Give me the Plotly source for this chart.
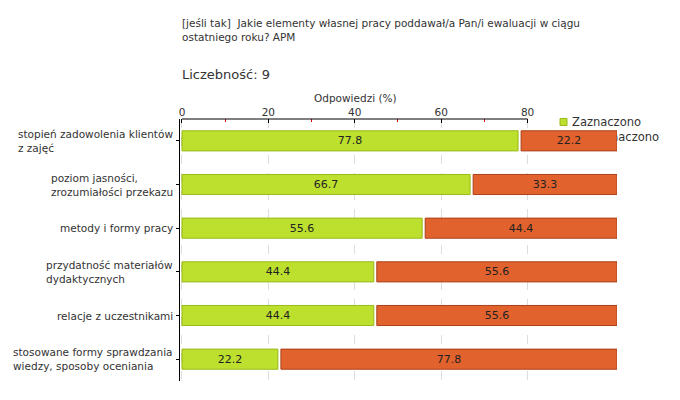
import plotly.graph_objects as go

categories = [
    "stopień zadowolenia klientów<br>z zajęć",
    "poziom jasności,<br>zrozumiałości przekazu",
    "metody i formy pracy",
    "przydatność materiałów<br>dydaktycznych",
    "relacje z uczestnikami",
    "stosowane formy sprawdzania<br>wiedzy, sposoby oceniania",
]
zaznaczono = [77.8, 66.7, 55.6, 44.4, 44.4, 22.2]
niezaznaczono = [22.2, 33.3, 44.4, 55.6, 55.6, 77.8]
tick_vals = [0, 20, 40, 60, 80]
minor_vals = [10, 30, 50, 70]
series_names = ["Zaznaczono", "Niezaznaczono"]

title_text = "[jeśli tak]  Jakie elementy własnej pracy poddawał/a Pan/i ewaluacji w ciągu<br>ostatniego roku? APM"
count_text = "Liczebność: 9"
axis_title = "Odpowiedzi (%)"

FONT = "DejaVu Sans"
TXT = "#333333"
GREEN = "#BDE02F"
GREEN_EDGE = "#98BA18"
ORANGE = "#E2622E"
ORANGE_EDGE = "#A9401A"
GAP = 0.7

fig = go.Figure()
fig.add_trace(go.Bar(
    y=categories, x=zaznaczono, orientation="h", name=series_names[0],
    marker=dict(color=GREEN, line=dict(color=GREEN_EDGE, width=1)),
    text=[f"{v:.1f}" for v in zaznaczono], textposition="inside",
    insidetextanchor="middle", textfont=dict(family=FONT, size=11, color="#222222"),
    showlegend=False, hoverinfo="x+y",
))
fig.add_trace(go.Bar(
    y=categories, x=niezaznaczono, orientation="h", name=series_names[1],
    base=[v + GAP for v in zaznaczono],
    marker=dict(color=ORANGE, line=dict(color=ORANGE_EDGE, width=1)),
    text=[f"{v:.1f}" for v in niezaznaczono], textposition="inside",
    insidetextanchor="middle", textfont=dict(family=FONT, size=11, color="#222222"),
    showlegend=False, hoverinfo="x+y",
))

W, H = 680, 400
L, R, T, B = 180, 63, 119, 19
pw, ph = W - L - R, H - T - B

def px(xp):
    return (xp - L) / pw

def py(yp):
    return 1 - (yp - T) / ph

annotations = [
    dict(text=title_text, xref="paper", yref="paper", x=px(180), y=py(15),
         xanchor="left", yanchor="top", align="left", showarrow=False,
         font=dict(family=FONT, size=10.5, color=TXT)),
    dict(text=count_text, xref="paper", yref="paper", x=px(180), y=py(75),
         xanchor="left", yanchor="middle", align="left", showarrow=False,
         font=dict(family=FONT, size=13, color=TXT)),
    dict(text=axis_title, xref="paper", yref="paper", x=px(355), y=py(98),
         xanchor="center", yanchor="middle", showarrow=False,
         font=dict(family=FONT, size=10.5, color=TXT)),
    dict(text=series_names[0], xref="paper", yref="paper", x=px(570), y=py(122),
         xanchor="left", yanchor="middle", showarrow=False,
         font=dict(family=FONT, size=11.5, color=TXT)),
]
for c in categories:
    annotations.append(dict(
        text=c, xref="paper", yref="y", x=0, y=c, xshift=-5,
        xanchor="right", yanchor="middle", align="left", showarrow=False,
        font=dict(family=FONT, size=10.5, color=TXT)))

shapes = [
    # top axis line up to the last tick
    dict(type="line", xref="x", yref="paper", x0=tick_vals[0], x1=tick_vals[-1],
         y0=1, y1=1, line=dict(color="#000000", width=1), layer="above"),
    # legend markers
    dict(type="rect", xref="paper", yref="paper", x0=px(560), x1=px(567),
         y0=py(125.5), y1=py(118.5), fillcolor=GREEN, line=dict(color=GREEN_EDGE, width=1),
         layer="above"),
    dict(type="rect", xref="paper", yref="paper", x0=px(560), x1=px(567),
         y0=py(138.5), y1=py(131.5), fillcolor=ORANGE, line=dict(width=0),
         layer="below"),
    # second legend entry, drawn below the bars
    dict(type="rect", xref="paper", yref="paper", x0=px(570), x1=px(670),
         y0=py(143), y1=py(129), line=dict(width=0), fillcolor="rgba(0,0,0,0)",
         layer="below",
         label=dict(text=series_names[1], textposition="middle left", padding=0,
                    font=dict(family=FONT, size=11.5, color=TXT))),
]

fig.update_layout(
    width=W, height=H,
    margin=dict(l=L, r=R, t=T, b=B),
    paper_bgcolor="white", plot_bgcolor="white",
    barmode="overlay", bargap=0.54,
    font=dict(family=FONT, size=10.5, color=TXT),
    annotations=annotations, shapes=shapes,
    showlegend=False,
    xaxis=dict(
        side="top", range=[-0.46, 100 + GAP], tickvals=tick_vals,
        ticktext=[str(v) for v in tick_vals],
        showline=False, zeroline=False,
        showgrid=True, gridcolor="#DDDDDD", griddash="dash", gridwidth=1,
        ticks="inside", ticklen=4, tickcolor="#000000",
        tickfont=dict(family=FONT, size=10.5, color=TXT),
        minor=dict(tickvals=minor_vals, ticks="inside", ticklen=3,
                   tickcolor="#DD0000", showgrid=False),
        fixedrange=True,
    ),
    yaxis=dict(
        autorange="reversed", showticklabels=False,
        showline=True, linecolor="#000000", linewidth=1,
        ticks="outside", ticklen=3, tickcolor="#000000",
        showgrid=False, zeroline=False, fixedrange=True,
    ),
)

fig.write_html(
    "out.html",
    config={"displayModeBar": False},
    post_script="document.body.style.margin='0';document.body.style.overflow='hidden';",
)
